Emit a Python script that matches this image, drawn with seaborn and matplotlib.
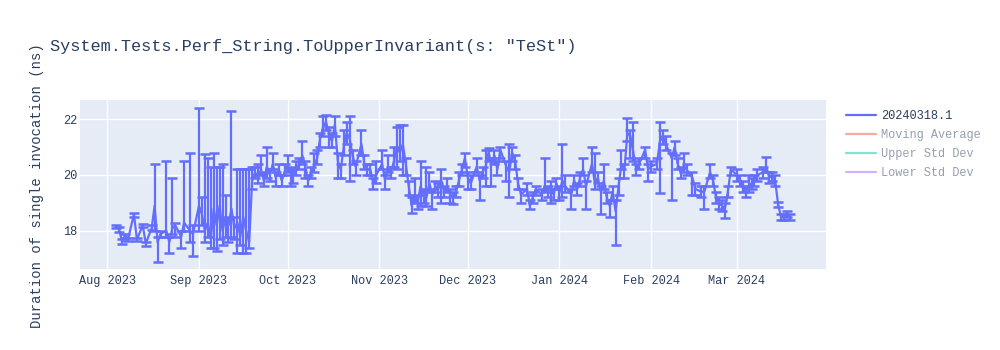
import matplotlib
matplotlib.use("Agg")
import matplotlib.pyplot as plt
import matplotlib.dates as mdates
from matplotlib.lines import Line2D
import seaborn as sns
import pandas as pd

dates = [
    "2023-08-04", "2023-08-05", "2023-08-06", "2023-08-07", "2023-08-08", "2023-08-10", "2023-08-11", "2023-08-13",
    "2023-08-14", "2023-08-16", "2023-08-17", "2023-08-18", "2023-08-19", "2023-08-21", "2023-08-22", "2023-08-23",
    "2023-08-24", "2023-08-26", "2023-08-27", "2023-08-29", "2023-08-30", "2023-09-01", "2023-09-02", "2023-09-03",
    "2023-09-04", "2023-09-05", "2023-09-06", "2023-09-07", "2023-09-08", "2023-09-09", "2023-09-10", "2023-09-11",
    "2023-09-12", "2023-09-13", "2023-09-14", "2023-09-15", "2023-09-16", "2023-09-17", "2023-09-18", "2023-09-19",
    "2023-09-20", "2023-09-21", "2023-09-22", "2023-09-23", "2023-09-24", "2023-09-25", "2023-09-26", "2023-09-27",
    "2023-09-28", "2023-09-29", "2023-09-30", "2023-10-01", "2023-10-02", "2023-10-03", "2023-10-04", "2023-10-05",
    "2023-10-06", "2023-10-07", "2023-10-08", "2023-10-09", "2023-10-10", "2023-10-11", "2023-10-12", "2023-10-13",
    "2023-10-14", "2023-10-15", "2023-10-16", "2023-10-17", "2023-10-18", "2023-10-19", "2023-10-20", "2023-10-21",
    "2023-10-22", "2023-10-23", "2023-10-24", "2023-10-26", "2023-10-27", "2023-10-28", "2023-10-29", "2023-10-30",
    "2023-10-31", "2023-11-02", "2023-11-03", "2023-11-04", "2023-11-05", "2023-11-06", "2023-11-07", "2023-11-08",
    "2023-11-09", "2023-11-10", "2023-11-11", "2023-11-12", "2023-11-13", "2023-11-14", "2023-11-15", "2023-11-16",
    "2023-11-17", "2023-11-18", "2023-11-19", "2023-11-20", "2023-11-21", "2023-11-22", "2023-11-23", "2023-11-24",
    "2023-11-25", "2023-11-26", "2023-11-27", "2023-11-28", "2023-11-29", "2023-11-30", "2023-12-01", "2023-12-02",
    "2023-12-04", "2023-12-05", "2023-12-06", "2023-12-07", "2023-12-08", "2023-12-09", "2023-12-10", "2023-12-11",
    "2023-12-12", "2023-12-14", "2023-12-15", "2023-12-16", "2023-12-17", "2023-12-18", "2023-12-19", "2023-12-21",
    "2023-12-22", "2023-12-23", "2023-12-24", "2023-12-26", "2023-12-27", "2023-12-28", "2023-12-29", "2023-12-30",
    "2023-12-31", "2024-01-01", "2024-01-02", "2024-01-03", "2024-01-05", "2024-01-06", "2024-01-07", "2024-01-08",
    "2024-01-09", "2024-01-10", "2024-01-12", "2024-01-13", "2024-01-14", "2024-01-15", "2024-01-16", "2024-01-17",
    "2024-01-18", "2024-01-19", "2024-01-20", "2024-01-21", "2024-01-22", "2024-01-23", "2024-01-24", "2024-01-25",
    "2024-01-26", "2024-01-27", "2024-01-28", "2024-01-30", "2024-01-31", "2024-02-01", "2024-02-03", "2024-02-04",
    "2024-02-05", "2024-02-06", "2024-02-08", "2024-02-09", "2024-02-10", "2024-02-11", "2024-02-12", "2024-02-13",
    "2024-02-15", "2024-02-16", "2024-02-18", "2024-02-19", "2024-02-21", "2024-02-22", "2024-02-23", "2024-02-24",
    "2024-02-25", "2024-02-26", "2024-02-27", "2024-02-28", "2024-03-01", "2024-03-02", "2024-03-03", "2024-03-04",
    "2024-03-05", "2024-03-06", "2024-03-07", "2024-03-08", "2024-03-10", "2024-03-11", "2024-03-12", "2024-03-13",
    "2024-03-14", "2024-03-15", "2024-03-16", "2024-03-17", "2024-03-18", "2024-03-19",
]

values = [
    18.15, 18.05, 17.6, 17.85, 17.7, 18.6, 17.7, 18.2,
    17.55, 18.1, 18.9, 17.6, 17.9, 18.0, 17.6, 18.1,
    18.2, 17.8, 18.3, 18.0, 17.9, 18.9, 18.6, 18.0,
    18.3, 17.7, 18.8, 18.2, 18.9, 18.0, 18.5, 18.2,
    18.8, 18.1, 18.3, 17.8, 18.5, 18.0, 17.6, 19.8,
    20.1, 19.9, 20.2, 19.8, 20.3, 20.0, 20.4, 19.9,
    20.2, 19.8, 20.1, 20.3, 20.1, 20.0, 20.2, 20.4,
    20.7, 20.3, 19.8, 20.1, 20.3, 20.6, 21.3, 21.7,
    21.9, 21.5, 21.2, 21.8, 20.5, 20.2, 21.0, 21.5,
    21.3, 20.7, 20.3, 21.1, 20.4, 20.2, 20.2, 19.7,
    20.0, 20.4, 19.8, 20.3, 20.1, 20.5, 21.0, 20.8,
    21.1, 20.4, 19.6, 18.9, 19.3, 19.0, 19.6, 19.3,
    19.2, 19.7, 19.3, 19.6, 19.5, 19.8, 19.4, 19.6,
    19.3, 19.2, 19.4, 19.8, 20.2, 20.6, 19.9, 19.7,
    20.3, 19.8, 20.1, 20.3, 20.8, 20.4, 20.7, 20.2,
    20.9, 20.3, 20.1, 20.8, 20.5, 19.7, 19.3, 19.5,
    18.9, 19.2, 19.5, 19.3, 19.6, 19.4, 19.6, 19.3,
    19.7, 19.4, 19.8, 19.6, 19.3, 19.8, 19.5, 19.9,
    20.2, 19.6, 20.4, 19.7, 19.9, 19.4, 19.8, 19.2,
    18.9, 19.4, 18.7, 19.6, 20.4, 20.2, 21.5, 21.4,
    20.8, 20.2, 20.4, 20.9, 20.2, 20.3, 20.4, 21.2,
    21.4, 21.1, 20.6, 21.0, 20.4, 20.1, 20.3, 20.2,
    19.9, 19.5, 19.4, 19.4, 20.1, 19.8, 19.2, 19.0,
    18.9, 18.8, 19.4, 20.2, 20.0, 19.8, 19.6, 19.4,
    19.6, 19.7, 19.8, 20.0, 20.1, 20.3, 19.9, 20.0,
    19.8, 18.95, 18.5, 18.5, 18.6, 18.5,
]

err_plus = [
    0.05, 0.1, 0.1, 0.05, 0.05, 0.05, 0.05, 0.05,
    0.05, 0.1, 1.5, 0.2, 0.1, 2.5, 0.2, 1.8,
    0.1, 0.2, 2.2, 2.8, 0.3, 3.5, 0.6, 2.75,
    2.3, 2.6, 2.0, 2.1, 1.4, 2.4, 0.8, 0.3,
    3.5, 0.4, 1.9, 2.4, 1.7, 2.2, 2.6, 0.5,
    0.2, 0.5, 0.5, 0.3, 0.7, 0.2, 0.4, 0.2,
    0.2, 0.2, 0.3, 0.4, 0.2, 0.2, 0.3, 0.2,
    0.5, 0.2, 0.2, 0.2, 0.5, 0.3, 0.2, 0.4,
    0.25, 0.2, 0.3, 0.3, 0.3, 0.2, 0.6, 0.4,
    0.8, 0.2, 0.2, 0.5, 0.3, 0.2, 0.2, 0.2,
    0.5, 0.5, 0.2, 0.4, 0.2, 0.5, 0.7, 1.0,
    0.7, 0.2, 0.2, 0.3, 0.6, 0.3, 0.9, 0.2,
    1.1, 0.4, 0.2, 0.2, 0.2, 0.4, 0.2, 0.3,
    0.2, 0.2, 0.2, 0.3, 0.2, 0.2, 0.2, 0.3,
    0.3, 0.2, 0.2, 0.6, 0.15, 0.2, 0.2, 0.3,
    0.1, 0.2, 1.0, 0.2, 0.2, 0.2, 0.2, 0.2,
    0.2, 0.2, 0.1, 0.2, 1.0, 0.2, 0.2, 0.2,
    0.2, 0.2, 1.3, 0.4, 0.2, 0.2, 0.2, 0.2,
    0.4, 0.2, 0.6, 1.1, 0.2, 0.2, 0.6, 0.2,
    0.2, 0.2, 0.4, 0.3, 0.5, 0.2, 0.55, 0.2,
    1.1, 0.2, 0.2, 0.1, 0.2, 0.2, 0.2, 0.7,
    0.2, 0.3, 0.2, 0.2, 0.2, 0.2, 0.5, 0.2,
    0.2, 0.2, 0.2, 0.2, 0.3, 0.2, 0.2, 0.2,
    0.2, 0.2, 0.2, 0.1, 0.2, 0.2, 0.2, 0.2,
    0.4, 0.2, 0.2, 0.2, 0.2, 0.35, 0.2, 0.1,
    0.2, 0.1, 0.1, 0.1, 0.1, 0.1,
]

err_minus = [
    0.05, 0.1, 0.05, 0.1, 0.05, 0.1, 0.05, 0.05,
    0.1, 0.05, 0.9, 0.7, 0.1, 0.2, 0.4, 0.2,
    0.4, 0.4, 0.3, 0.4, 0.8, 0.9, 0.4, 0.4,
    0.5, 0.3, 1.4, 0.9, 1.2, 0.5, 0.7, 0.6,
    1.0, 0.4, 1.1, 0.3, 1.3, 0.8, 0.2, 0.3,
    0.2, 0.2, 0.2, 0.2, 0.4, 0.2, 0.2, 0.3,
    0.2, 0.2, 0.1, 0.2, 0.5, 0.3, 0.2, 0.2,
    0.3, 0.4, 0.2, 0.2, 0.2, 0.2, 0.3, 0.3,
    0.3, 0.5, 0.2, 0.4, 0.6, 0.3, 0.3, 0.4,
    1.5, 0.3, 0.3, 0.4, 0.2, 0.2, 0.2, 0.2,
    0.3, 0.2, 0.3, 0.2, 0.2, 0.2, 0.8, 0.3,
    1.1, 0.4, 0.3, 0.25, 0.3, 0.2, 0.7, 0.3,
    0.3, 0.3, 0.5, 0.2, 0.3, 0.8, 0.2, 0.2,
    0.3, 0.25, 0.2, 0.2, 0.2, 0.3, 0.4, 0.2,
    0.2, 0.7, 0.2, 0.7, 0.3, 0.8, 0.3, 0.2,
    0.3, 0.5, 0.9, 0.3, 0.3, 0.2, 0.3, 0.2,
    0.1, 0.2, 0.2, 0.2, 0.2, 0.2, 0.6, 0.2,
    0.2, 0.3, 0.6, 0.2, 0.5, 0.2, 0.2, 0.3,
    0.2, 0.8, 0.3, 0.2, 0.2, 0.8, 0.3, 0.2,
    0.4, 0.3, 1.2, 0.3, 0.2, 0.3, 0.3, 0.8,
    0.3, 0.2, 0.2, 0.3, 0.4, 0.2, 0.2, 1.85,
    0.3, 0.2, 1.5, 0.3, 0.2, 0.2, 0.2, 0.2,
    0.6, 0.2, 0.2, 0.6, 0.2, 0.2, 0.2, 0.2,
    0.2, 0.35, 0.2, 0.2, 0.2, 0.2, 0.2, 0.2,
    0.2, 0.2, 0.2, 0.2, 0.2, 0.2, 0.2, 0.2,
    0.2, 0.1, 0.1, 0.1, 0.1, 0.1,
]

title = 'System.Tests.Perf_String.ToUpperInvariant(s: "TeSt")'
y_label = "Duration of single invocation (ns)"
legend_labels = ["20240318.1", "Moving Average", "Upper Std Dev", "Lower Std Dev"]

df = pd.DataFrame({"date": pd.to_datetime(dates), "value": values,
                   "plus": err_plus, "minus": err_minus})

sns.set_theme(style="darkgrid")
plt.rcParams["font.family"] = ["Liberation Mono", "DejaVu Sans Mono"]

TEXT = "#2a3f5f"
BLUE = "#636efa"

fig = plt.figure(figsize=(10, 3.5), dpi=100)
ax = fig.add_axes([80 / 1000, 1 - 269 / 350, (826 - 80) / 1000, (269 - 100) / 350])
ax.set_facecolor("#e5ecf6")
fig.patch.set_facecolor("white")

ax.errorbar(df["date"], df["value"], yerr=[df["minus"], df["plus"]], fmt="none",
            ecolor=BLUE, elinewidth=1.6, capsize=3.6, capthick=1.8, zorder=3)
sns.lineplot(data=df, x="date", y="value", ax=ax, color=BLUE, linewidth=1.6,
             estimator=None, zorder=4)

ax.set_xlim(pd.Timestamp("2023-07-22 18:00"), pd.Timestamp("2024-03-31 05:00"))
ax.set_ylim(16.64, 22.68)
ax.set_yticks([18, 20, 22])
ax.xaxis.set_major_locator(mdates.MonthLocator())
ax.xaxis.set_major_formatter(mdates.DateFormatter("%b %Y"))
ax.grid(True, color="white", linewidth=1)
ax.set_axisbelow(True)
for s in ax.spines.values():
    s.set_visible(False)
ax.tick_params(axis="both", length=0, labelsize=8.6, labelcolor=TEXT)
ax.tick_params(axis="x", pad=4)
ax.tick_params(axis="y", pad=2)
ax.set_xlabel("")
ax.set_ylabel("")

fig.text(0.037, 1 - 185.5 / 350, y_label, rotation=90, ha="center", va="center",
         fontsize=10, color=TEXT)
fig.text(0.05, 1 - 46 / 350, title, ha="left", va="center", fontsize=12.2, color=TEXT)

handles = [
    Line2D([], [], color=BLUE, linewidth=1.6),
    Line2D([], [], color="#f7aa9d", linewidth=1.6),
    Line2D([], [], color="#80e6cb", linewidth=1.6),
    Line2D([], [], color="#d5b1fd", linewidth=1.6),
]
leg = fig.legend(handles, legend_labels, loc="upper left",
                 bbox_to_anchor=(846 / 1000, 1 - 110 / 350), frameon=False,
                 fontsize=8.6, handlelength=2.5, handletextpad=0.45, labelspacing=0.6,
                 borderaxespad=0, borderpad=0)
for i, t in enumerate(leg.get_texts()):
    t.set_color(TEXT if i == 0 else "#95a0af")

fig.savefig("out.png", dpi=100, facecolor="white")
